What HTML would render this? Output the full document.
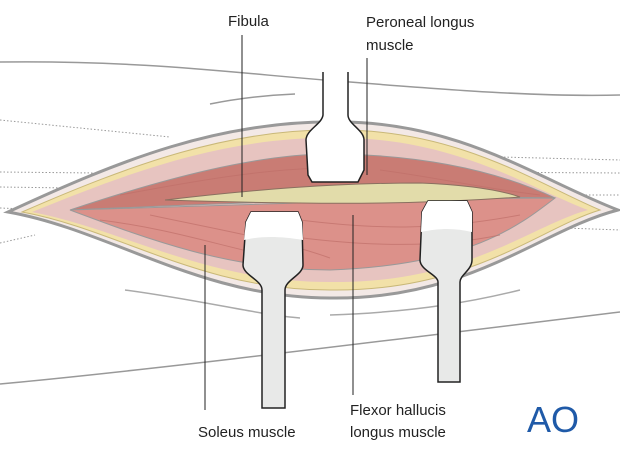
<!DOCTYPE html>
<html><head><meta charset="utf-8"><style>
html,body{margin:0;padding:0;background:#fff;}
svg{display:block;}
text{font-family:"Liberation Sans",sans-serif;font-size:15px;fill:#222;}
</style></head><body>
<svg width="620" height="459" viewBox="0 0 620 459" xmlns="http://www.w3.org/2000/svg">
<!-- skin lines -->
<path d="M0 62 C150 60 250 75 350 82 C450 90 540 97 620 95" fill="none" stroke="#999" stroke-width="1.5"/>
<path d="M210 104 C240 98 270 95 295 94" fill="none" stroke="#999" stroke-width="1.5"/>
<path d="M0 384 C150 370 350 345 620 312" fill="none" stroke="#999" stroke-width="1.5"/>
<path d="M125 290 C200 300 260 315 300 318" fill="none" stroke="#aaa" stroke-width="1.5"/>
<path d="M330 315 C420 312 480 300 520 290" fill="none" stroke="#aaa" stroke-width="1.5"/>
<g stroke="#999" stroke-width="1" stroke-dasharray="1.5,2" fill="none">
<path d="M0 120 L170 137"/><path d="M0 172 L95 173"/><path d="M0 187 L70 188"/><path d="M0 208 L25 209"/><path d="M0 243 L35 235"/>
<path d="M420 155 L620 160"/><path d="M450 172 L620 173"/><path d="M470 195 L620 195"/><path d="M480 225 L620 230"/>
</g>
<!-- wound outer -->
<path d="M8 212 C120 160 220 120 340 122 C460 122 540 180 618 210 C540 230 470 300 330 298 C200 298 110 230 8 212 Z" fill="#f3e9e6" stroke="#999" stroke-width="3"/>
<path d="M22 212 C130 165 230 128 340 130 C460 130 540 185 600 210 C540 228 470 292 330 290 C200 290 120 230 22 212 Z" fill="#f2e1a8" stroke="#c9b878" stroke-width="1"/>
<path d="M32 212 C140 168 230 136 340 138 C455 138 530 188 588 210 C530 226 465 284 330 282 C205 282 125 230 32 212 Z" fill="#e7c4c0"/>
<!-- upper muscle -->
<path d="M70 210 C160 180 260 152 340 154 C430 156 500 172 555 198 C450 196 300 200 70 210 Z" fill="#c97c74" stroke="#999" stroke-width="1"/>
<!-- lower muscle -->
<path d="M70 210 C250 205 420 198 555 198 C520 225 470 265 330 270 C230 270 150 240 70 210 Z" fill="#dc918a" stroke="#999" stroke-width="1"/>
<g stroke="#c0706a" stroke-width="1" fill="none" opacity="0.7">
<path d="M100 220 C180 230 230 250 300 262"/><path d="M150 215 C220 230 280 240 330 258"/><path d="M300 220 C380 230 440 230 520 215"/><path d="M280 235 C350 245 430 250 500 235"/>
<path d="M120 195 C200 180 260 170 320 168"/><path d="M380 170 C440 178 480 188 540 195"/>
</g>
<!-- fibula -->
<path d="M165 200 C250 190 330 183 420 183 C470 185 500 190 520 197 C440 203 350 206 165 200 Z" fill="#e2dcaa" stroke="#8a7060" stroke-width="1"/>
<!-- retractors -->
<path d="M323 72 L323 115 C322 124 306 130 306 140 L308 175 L312 182 L358 182 L364 170 L364 140 C364 130 348 124 348 115 L348 72" fill="#fff" stroke="#222" stroke-width="1.5"/>
<path d="M262 408 L262 290 C262 280 243 275 243 265 L246 222 L251 212 L298 212 L302 222 L303 265 C303 275 285 280 285 290 L285 408 Z" fill="#e8e9e8" stroke="#222" stroke-width="1.5"/>
<path d="M251 212 L298 212 L302 222 L303 240 C280 236 260 236 244 240 L246 222 Z" fill="#fff"/>
<path d="M438 382 L438 282 C438 275 420 270 420 260 L422 212 L428 201 L467 201 L472 212 L472 260 C472 270 460 275 460 282 L460 382 Z" fill="#e8e9e8" stroke="#222" stroke-width="1.5"/>
<path d="M428 201 L467 201 L472 212 L472 232 C455 228 440 228 421 232 L422 212 Z" fill="#fff"/>
<!-- leaders -->
<g stroke="#222" stroke-width="1">
<line x1="242" y1="35" x2="242" y2="197"/><line x1="367" y1="58" x2="367" y2="175"/>
<line x1="205" y1="245" x2="205" y2="410"/><line x1="353" y1="215" x2="353" y2="395"/>
</g>
<text x="228" y="26">Fibula</text>
<text x="366" y="27">Peroneal longus</text>
<text x="366" y="50">muscle</text>
<text x="198" y="437">Soleus muscle</text>
<text x="350" y="415">Flexor hallucis</text>
<text x="350" y="437">longus muscle</text>
<text x="527" y="432" style="font-size:36px;fill:#1f5aa8;font-weight:normal">AO</text>
</svg>
</body></html>
